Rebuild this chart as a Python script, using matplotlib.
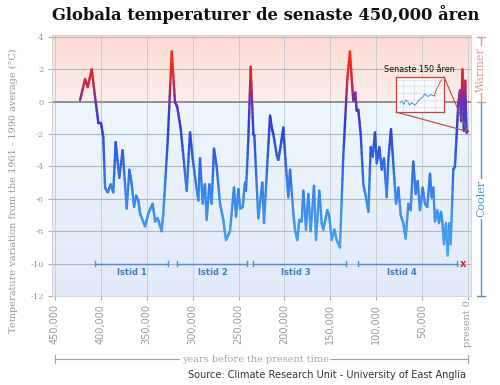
import numpy as np
import matplotlib
matplotlib.use("Agg")
import matplotlib.pyplot as plt
from matplotlib.collections import LineCollection
from matplotlib.colors import LinearSegmentedColormap, Normalize
from matplotlib.lines import Line2D
from matplotlib.transforms import blended_transform_factory

plt.rcParams['axes.unicode_minus'] = False

# ---------------- data ----------------
years = [422700, 417300, 414400, 410000, 406400, 402800, 400000, 397400, 395500, 392600,
         389300, 386500, 383900, 380000, 376300, 371900, 369000, 366400, 363900, 361700,
         359200, 357400, 351900, 348300, 343600, 341000, 338100, 333800, 332000, 327200,
         322800, 319300, 316700, 313000, 309400, 306500, 302900, 300000, 296400, 293800,
         292000, 289100, 286600, 284700, 281800, 279300, 276800, 273900, 270200, 266600,
         263700, 259300, 255000, 252700, 250200, 248400, 245500, 243000, 241900, 239400,
         236800, 233900, 232800, 228500, 224100, 222300, 215700, 213900, 212100, 208400,
         206700, 204000, 201200, 199400, 195800, 193900, 190300, 188500, 186000, 183800,
         181200, 179400, 176500, 174000, 171400, 167800, 165600, 162000, 159400, 157600,
         153300, 151100, 148500, 145600, 143100, 139500, 135900, 131500, 128600, 126700,
         125000, 122800, 121300, 119500, 116900, 114000, 111100, 108500, 106000, 103800,
         101300, 99400, 96600, 94000, 91500, 88600, 86800, 83900, 81400, 78400,
         75900, 73300, 70500, 67900, 65000, 62400, 59600, 57000, 54800, 52300,
         49400, 46900, 44300, 41400, 39600, 37800, 36000, 33500, 31600, 29400,
         28000, 26100, 24000, 22100, 20400, 18800, 16000, 14200, 12300, 10600,
         8700, 7500, 6000, 4500, 3000, 1500, 500]
temps = [0.1, 1.4, 0.9, 2.0, 0.3, -1.3, -1.3, -2.2, -5.3, -5.6,
         -5.1, -5.6, -2.5, -4.7, -3.0, -6.6, -4.2, -5.1, -6.5, -5.8,
         -6.1, -6.9, -7.7, -6.9, -6.3, -7.4, -7.2, -8.0, -6.9, -2.4,
         3.1, 0.0, -0.35, -1.7, -3.8, -5.5, -1.9, -3.5, -5.1, -6.1,
         -3.5, -6.3, -5.1, -7.3, -5.1, -6.3, -2.9, -4.0, -6.3, -7.3,
         -8.55, -8.0, -5.3, -7.1, -5.4, -6.6, -6.5, -5.0, -5.5, -2.4,
         2.15, -2.0, -2.1, -7.2, -5.0, -7.5, -0.86, -1.6, -2.0, -3.3,
         -3.6, -2.7, -1.6, -3.2, -5.9, -4.2, -6.9, -7.9, -8.55, -7.3,
         -7.4, -5.5, -7.9, -5.7, -8.0, -5.2, -8.55, -5.5, -7.5, -7.9,
         -6.7, -7.1, -8.55, -7.9, -8.55, -9.0, -3.4, 1.4, 3.1, 1.4,
         0.06, 0.57, -0.55, -0.5, -2.0, -5.1, -5.9, -6.8, -2.8, -3.4,
         -1.9, -3.8, -2.8, -4.2, -3.5, -5.9, -3.6, -1.7, -3.8, -6.3,
         -5.3, -7.0, -7.5, -8.45, -6.3, -6.7, -3.7, -5.7, -4.9, -6.7,
         -5.3, -6.3, -6.5, -4.45, -5.9, -5.3, -7.4, -6.7, -7.5, -6.8,
         -7.4, -8.8, -7.5, -9.5, -7.5, -8.8, -4.2, -4.0, -2.0, -0.2,
         0.7, -1.2, 2.0, -1.8, 1.3, -1.9, -1.8]

xtick_values = [450000, 400000, 350000, 300000, 250000, 200000, 150000, 100000, 50000, 0]
xtick_labels = ['450,000', '400,000', '350,000', '300,000', '250,000', '200,000',
                '150,000', '100,000', '50,000', '']
ytick_values = [4, 2, 0, -2, -4, -6, -8, -10, -12]

istid_names = ['Istid 1', 'Istid 2', 'Istid 3', 'Istid 4']
istid_start = [406400, 317400, 233900, 119500]
istid_end = [326500, 241100, 132900, 12300]
istid_label_x = [366000, 278200, 187400, 71600]

inset_years = [1850, 1857, 1864, 1871, 1878, 1885, 1892, 1899, 1906, 1913, 1920, 1927,
               1934, 1941, 1948, 1955, 1962, 1969, 1976, 1983, 1990, 1997, 2004]
inset_temps = [-0.35, -0.3, -0.42, -0.25, -0.3, -0.45, -0.35, -0.4, -0.45, -0.35, -0.25, -0.2,
               -0.15, -0.02, -0.1, -0.12, -0.05, -0.08, -0.1, 0.1, 0.25, 0.4, 0.5]

# ---------------- figure ----------------
W, H = 500, 385
fig = plt.figure(figsize=(W / 100, H / 100), dpi=100)
fig.patch.set_facecolor('white')

def fx(px):
    return px / W

def fy(py):
    return 1 - py / H

ax = fig.add_axes([fx(52), fy(296), fx(471) - fx(52), fy(35) - fy(296)])
XL, XR = 453300, -3300
YB, YT = -12.0, 4.12
ax.set_xlim(XL, XR)
ax.set_ylim(YB, YT)

# background gradient
yy = np.linspace(YB, YT, 400)
cols = np.zeros((400, 1, 3))
def hexrgb(h):
    h = h.lstrip('#')
    return np.array([int(h[i:i + 2], 16) / 255 for i in (0, 2, 4)])
pink_top, pink_low = hexrgb('#fcdad4'), hexrgb('#fdefeb')
blue_top, blue_bot = hexrgb('#eef6fd'), hexrgb('#e2eafa')
for i, v in enumerate(yy):
    if v >= 0:
        t = v / YT
        cols[i, 0] = pink_low * (1 - t) + pink_top * t
    else:
        t = v / YB
        cols[i, 0] = blue_top * (1 - t) + blue_bot * t
ax.imshow(cols, extent=[XL, XR, YB, YT], origin='lower', aspect='auto', zorder=0)

# grid
for xv in xtick_values:
    ax.axvline(xv, color='#c4c6cc', lw=0.6, zorder=1)
for yv in ytick_values:
    if yv == 0:
        ax.axhline(yv, color='#8a8a8a', lw=1.3, zorder=1)
    else:
        ax.axhline(yv, color='#b4b4b8', lw=0.8, zorder=1)

# gradient-coloured temperature line
cmap = LinearSegmentedColormap.from_list('temp', [
    (0.0, '#4aa8f4'), (0.276, '#3a8aea'), (0.472, '#2e62e0'), (0.63, '#2a42d8'),
    (0.748, '#6a30b0'), (0.827, '#c02a50'), (0.906, '#e82a1c'), (1.0, '#ff3212')])
norm = Normalize(vmin=-9.5, vmax=3.2)
xa = np.array(years, float)
ya = np.array(temps, float)
segs, cvals = [], []
for i in range(len(xa) - 1):
    n = 8
    tt = np.linspace(0, 1, n + 1)
    sx = xa[i] + (xa[i + 1] - xa[i]) * tt
    sy = ya[i] + (ya[i + 1] - ya[i]) * tt
    for k in range(n):
        segs.append([(sx[k], sy[k]), (sx[k + 1], sy[k + 1])])
        cvals.append((sy[k] + sy[k + 1]) / 2)
lc = LineCollection(segs, cmap=cmap, norm=norm, linewidths=1.7, capstyle='round', zorder=3)
lc.set_array(np.array(cvals))
ax.add_collection(lc)

# ice age brackets
istid_y = -10.0
for s, e in zip(istid_start, istid_end):
    ax.plot([s, e], [istid_y, istid_y], color='#4a8fd8', lw=1.0, zorder=2)
    for xv in (s, e):
        ax.plot([xv, xv], [istid_y - 0.15, istid_y + 0.15], color='#4a8fd8', lw=1.0, zorder=2)
for name, lx in zip(istid_names, istid_label_x):
    ax.text(lx, -10.55, name, color='#3c7cc8', fontsize=6, fontweight='bold',
            ha='center', va='center', zorder=4)
ax.text(5100, -10.0, 'x', color='#d8202a', fontsize=7, fontweight='bold',
        ha='center', va='center', zorder=4)

# axes styling
for sp in ax.spines.values():
    sp.set_color('#cfcfd4')
    sp.set_linewidth(0.6)
ax.set_yticks(ytick_values)
ax.set_yticklabels([str(v) for v in ytick_values], family='DejaVu Serif', fontsize=6, color='#9a9a9a')
ax.set_xticks(xtick_values)
ax.set_xticklabels(xtick_labels, rotation=90, fontsize=7, color='#9a9a9a', va='top')
ax.tick_params(axis='y', length=3, color='#aaaaaa', pad=3)
ax.tick_params(axis='x', length=3, color='#aaaaaa', pad=3)
ax.text(0, YB - 0.25, 'present 0', rotation=90, ha='center', va='top', family='DejaVu Serif',
        fontsize=7, color='#9a9a9a', transform=ax.transData, clip_on=False)

ax.set_ylabel('Temperature variation from the 1961 - 1990 average (°C)', family='DejaVu Serif',
              fontsize=7, color='#9a9a9a')
ax.yaxis.set_label_coords((18 - 52) / (471 - 52), (296 - 191) / (296 - 35))

# title
fig.text(fx(266), fy(15), 'Globala temperaturer de senaste 450,000 åren', family='DejaVu Serif',
         fontweight='bold', fontsize=11.8, ha='center', va='center', color='#111111')

# right-hand Warmer / Cooler brackets
bt = blended_transform_factory(ax.transAxes, ax.transData)
bx = (481 - 52) / (471 - 52)
dx = 4 / (471 - 52)
warm_c, cool_c = '#e39a92', '#4d92d6'
ax.plot([bx, bx], [4, 0], color=warm_c, lw=1.0, transform=bt, clip_on=False)
ax.plot([bx - dx, bx + dx], [4, 4], color=warm_c, lw=1.0, transform=bt, clip_on=False)
ax.plot([bx - dx, bx + dx], [0, 0], color=warm_c, lw=1.0, transform=bt, clip_on=False)
ax.plot([bx, bx], [-0.05, -12], color=cool_c, lw=1.0, transform=bt, clip_on=False)
ax.plot([bx - dx, bx + dx], [-12, -12], color=cool_c, lw=1.0, transform=bt, clip_on=False)
ax.text(bx, 2.0, 'Warmer', rotation=90, ha='center', va='center', family='DejaVu Serif',
        fontsize=8, color=warm_c, transform=bt, clip_on=False,
        bbox=dict(facecolor='white', edgecolor='none', pad=1))
ax.text(bx, -6.0, 'Cooler', rotation=90, ha='center', va='center', family='DejaVu Serif',
        fontsize=8, color=cool_c, transform=bt, clip_on=False,
        bbox=dict(facecolor='white', edgecolor='none', pad=1))

# x-axis caption bracket
yb = fy(359)
fig.add_artist(Line2D([fx(55), fx(468)], [yb, yb], color='#a0a0a0', lw=0.8))
for px in (55, 468):
    fig.add_artist(Line2D([fx(px), fx(px)], [fy(355), fy(363)], color='#a0a0a0', lw=0.8))
fig.text(fx(255), yb, 'years before the present time', family='DejaVu Serif', fontsize=7,
         color='#a8a8a8', ha='center', va='center',
         bbox=dict(facecolor='white', edgecolor='none', pad=1.5))
fig.text(fx(327), fy(375), 'Source: Climate Research Unit - University of East Anglia',
         fontsize=7, color='#333333', ha='center', va='center')

# inset "Senaste 150 åren"
conn_c = '#c0473b'
fig.add_artist(Line2D([fx(444), fx(467.5)], [fy(77), fy(131.5)], color=conn_c, lw=0.8, zorder=5))
fig.add_artist(Line2D([fx(396), fx(467.5)], [fy(112), fy(131.5)], color=conn_c, lw=0.8, zorder=5))
iax = fig.add_axes([fx(396), fy(112), fx(444) - fx(396), fy(77) - fy(112)], zorder=6)
iax.set_facecolor('#f6f9fd')
iax.plot(inset_years[:-4], inset_temps[:-4], color='#4a8ee0', lw=0.7)
iax.plot(inset_years[-5:], inset_temps[-5:], color='#e05a3a', lw=0.7)
iax.set_xlim(1835, 2012)
iax.set_ylim(-0.7, 0.6)
iax.set_xticks([1860, 1900, 1940, 1980])
iax.set_yticks([-0.5, -0.25, 0, 0.25, 0.5])
iax.grid(True, color='#d8d8dc', lw=0.4)
iax.tick_params(length=0, labelbottom=False, labelleft=False)
for sp in iax.spines.values():
    sp.set_color(conn_c)
    sp.set_linewidth(0.9)
fig.text(fx(419), fy(69), 'Senaste 150 åren', fontsize=5.8, color='#111111',
         ha='center', va='center', zorder=7)

fig.savefig('out.png', dpi=100, facecolor='white')
